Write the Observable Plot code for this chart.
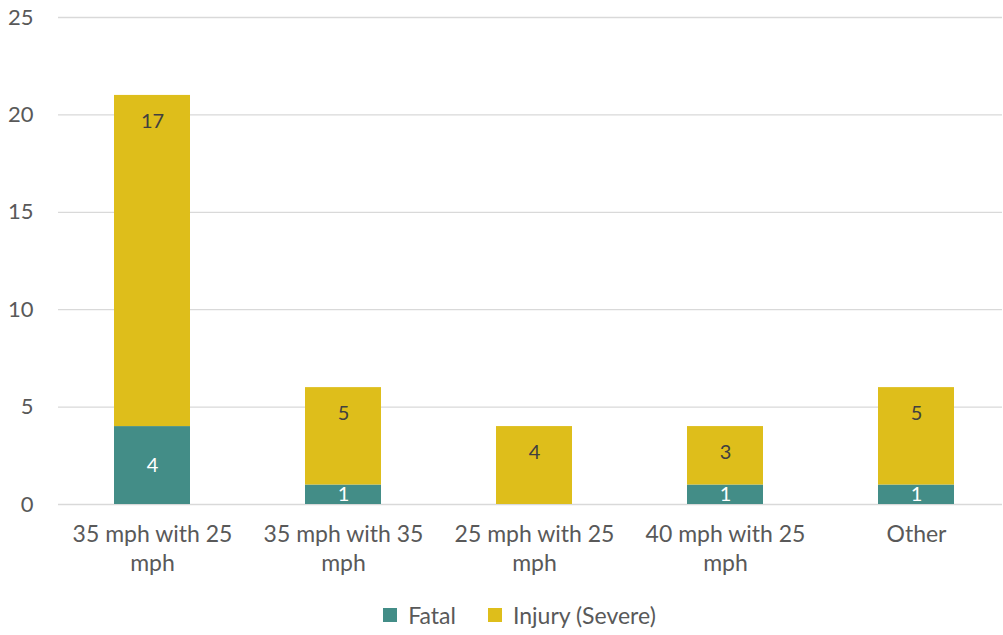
<!DOCTYPE html>
<html><head><meta charset="utf-8">
<script src="https://cdn.jsdelivr.net/npm/d3@7"></script>
<script src="https://cdn.jsdelivr.net/npm/@observablehq/plot@0.6"></script>
<style>
body{margin:0;background:#fff;font-family:Lato,"Noto Sans",sans-serif;}
#legend{display:flex;justify-content:center;align-items:center;font-size:23px;color:#595959;margin-top:16px;padding-left:36px;}
#legend .item{display:flex;align-items:center;margin:0 16px;}
#legend .sw{width:14px;height:14px;margin-right:11px;}
</style></head><body>
<div id="chart"></div>
<div id="legend"></div>
<script>
const categories = ["35 mph with 25 mph","35 mph with 35 mph","25 mph with 25 mph","40 mph with 25 mph","Other"];
const fatal = [4,1,0,1,1];
const injury = [17,5,4,3,5];
const seriesNames = ["Fatal","Injury (Severe)"];
const seriesColors = ["#438D87","#DEBE1B"];
const yTicks = [0,5,10,15,20,25];

const data = [];
categories.forEach((c,i)=>{
  data.push({cat:c, series:seriesNames[0], value:fatal[i]});
  data.push({cat:c, series:seriesNames[1], value:injury[i]});
});

const wrap = d => d.replace(/ mph$/, "\nmph");

const plot = Plot.plot({
  width:1003, height:585,
  marginTop:17, marginBottom:81, marginLeft:58, marginRight:1,
  style:{fontFamily:"Lato, 'Noto Sans', sans-serif", color:"#595959", background:"#fff"},
  x:{domain:categories, paddingInner:0.6, paddingOuter:0.3, range:[57,1012], label:null},
  y:{domain:[0,25], label:null},
  color:{domain:seriesNames, range:seriesColors},
  marks:[
    Plot.ruleY(yTicks,{stroke:"#d9d9d9", strokeWidth:1.3}),
    Plot.axisY({ticks:yTicks, tickSize:0, tickPadding:25, fontSize:22, label:null}),
    Plot.axisX({tickSize:0, tickPadding:17, fontSize:23, lineHeight:1.27, tickFormat:wrap, label:null}),
    Plot.barY(data, Plot.stackY({x:"cat", y:"value", fill:"series", order:seriesNames})),
    Plot.text(data, Plot.stackY({x:"cat", y:"value", z:"series", order:seriesNames,
      text:d => (d.series===seriesNames[0] && d.value>0) ? String(d.value) : "",
      fill:"white", fontSize:20})),
    Plot.text(data, Plot.stackY2({x:"cat", y:"value", z:"series", order:seriesNames,
      text:d => (d.series===seriesNames[1] && d.value>0) ? String(d.value) : "",
      fill:"#404040", fontSize:20, dy:26}))
  ]
});
document.getElementById("chart").appendChild(plot);

const leg = document.getElementById("legend");
seriesNames.forEach((n,i)=>{
  const it = document.createElement("div"); it.className="item";
  const sw = document.createElement("div"); sw.className="sw"; sw.style.background=seriesColors[i];
  const t = document.createElement("span"); t.textContent=n;
  it.appendChild(sw); it.appendChild(t); leg.appendChild(it);
});
</script>
</body></html>
